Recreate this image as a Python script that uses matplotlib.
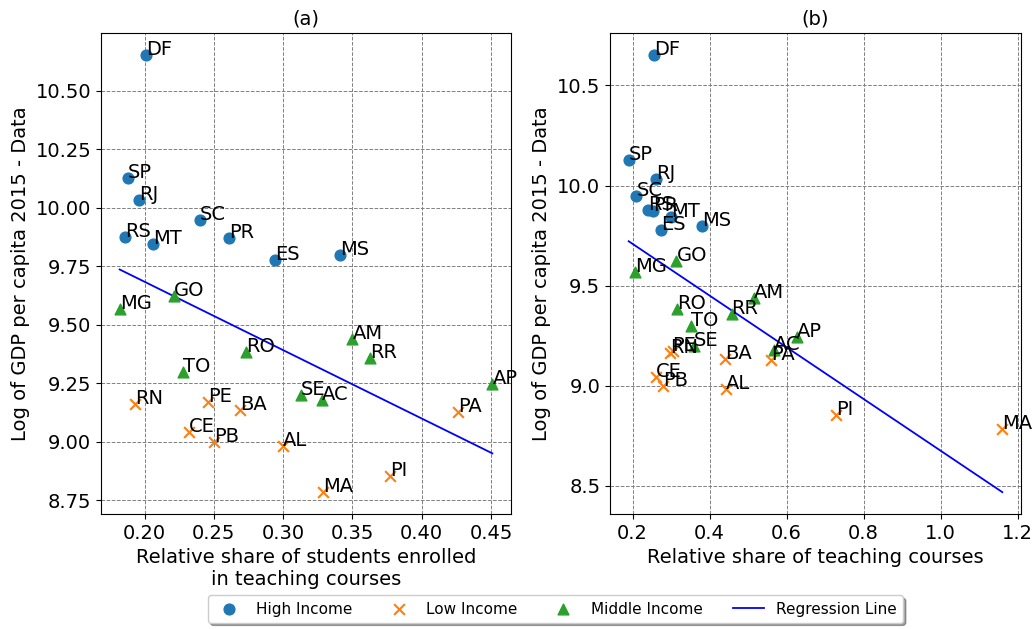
import numpy as np
import matplotlib
matplotlib.use("Agg")
from matplotlib import pyplot as plt

# states grouped by income level
high_states = ["DF", "SP", "RJ", "SC", "RS", "MT", "PR", "ES", "MS"]
high_gdp = [10.653, 10.128, 10.034, 9.949, 9.876, 9.845, 9.872, 9.776, 9.797]
high_share_students = [0.201, 0.188, 0.196, 0.240, 0.186, 0.206, 0.261, 0.294, 0.341]
high_share_courses = [0.256, 0.190, 0.262, 0.210, 0.240, 0.300, 0.253, 0.274, 0.381]

low_states = ["RN", "PE", "BA", "CE", "PB", "AL", "MA", "PI", "PA"]
low_gdp = [9.162, 9.172, 9.134, 9.042, 9.000, 8.983, 8.785, 8.855, 9.127]
low_share_students = [0.193, 0.246, 0.269, 0.232, 0.250, 0.300, 0.329, 0.377, 0.426]
low_share_courses = [0.297, 0.304, 0.440, 0.261, 0.280, 0.442, 1.160, 0.729, 0.560]

mid_states = ["MG", "GO", "RO", "TO", "AM", "RR", "SE", "AC", "AP"]
mid_gdp = [9.568, 9.622, 9.385, 9.300, 9.440, 9.360, 9.200, 9.180, 9.245]
mid_share_students = [0.182, 0.221, 0.273, 0.228, 0.350, 0.363, 0.313, 0.328, 0.451]
mid_share_courses = [0.206, 0.314, 0.315, 0.352, 0.516, 0.457, 0.360, 0.566, 0.627]

plt.rcParams["font.size"] = 14

fig = plt.figure(figsize=(10.36, 6.29), dpi=100)
axA = fig.add_axes([101/1036, 1-514/629, 410/1036, 481/629])
axB = fig.add_axes([610/1036, 1-514/629, 411/1036, 481/629])

def panel(ax, hx, lx, mx, title, xlabel):
    ax.scatter(hx, high_gdp, s=60, color="C0", marker="o", label="High Income", zorder=3)
    ax.scatter(lx, low_gdp, s=60, color="C1", marker="x", label="Low Income", zorder=3)
    ax.scatter(mx, mid_gdp, s=60, color="C2", marker="^", label="Middle Income", zorder=3)
    for names, xs, ys in [(high_states, hx, high_gdp), (low_states, lx, low_gdp), (mid_states, mx, mid_gdp)]:
        for n, x, y in zip(names, xs, ys):
            ax.annotate(n, (x, y), fontsize=14, zorder=4)
    # least squares fit over all states
    allx = np.array(hx + lx + mx)
    ally = np.array(high_gdp + low_gdp + mid_gdp)
    b, a = np.polyfit(allx, ally, 1)
    xs = np.array([allx.min(), allx.max()])
    ax.plot(xs, a + b*xs, color="blue", lw=1.3, label="Regression Line", zorder=2)
    ax.grid(True, linestyle="--", color="gray", lw=0.7)
    ax.set_axisbelow(True)
    ax.set_title(title, fontsize=14)
    ax.set_xlabel(xlabel, fontsize=14)
    ax.set_ylabel("Log of GDP per capita 2015 - Data", fontsize=14)
    ax.tick_params(labelsize=14)

panel(axA, high_share_students, low_share_students, mid_share_students, "(a)",
      "Relative share of students enrolled\nin teaching courses")
panel(axB, high_share_courses, low_share_courses, mid_share_courses, "(b)",
      "Relative share of teaching courses")
axA.set_yticks([8.75, 9.0, 9.25, 9.5, 9.75, 10.0, 10.25, 10.5])

handles, labels = axA.get_legend_handles_labels()
fig.legend(handles, labels, loc="lower center", ncol=4, fontsize=11, shadow=True,
           bbox_to_anchor=(0.536, -0.002))

fig.savefig("out.png", dpi=100)
